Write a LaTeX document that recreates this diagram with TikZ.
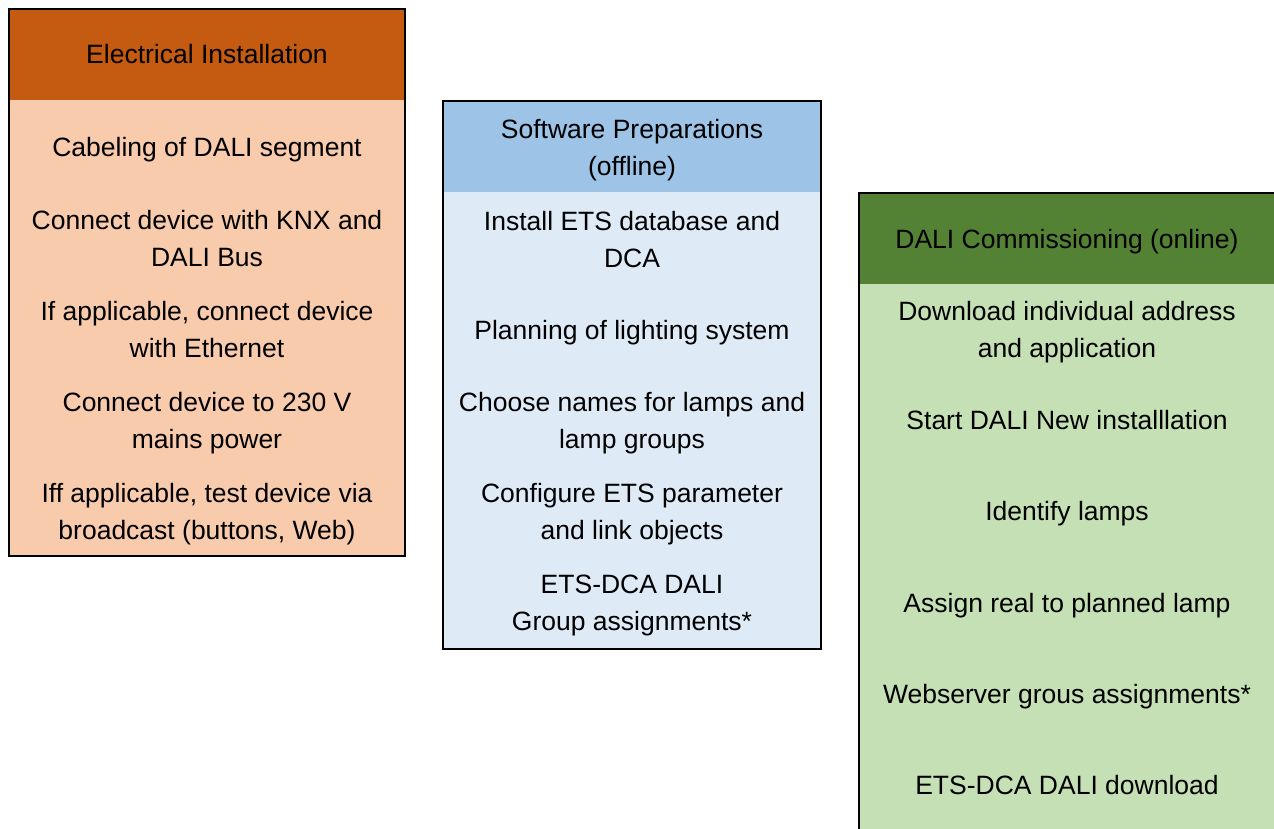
\documentclass[tikz,border=0pt]{standalone}
\usepackage{fontspec}
\setmainfont{Liberation Sans}
\newcommand\lnstrut{\rule[-8pt]{0pt}{35pt}}
\definecolor{orhead}{HTML}{C55A11}
\definecolor{orbody}{HTML}{F8CBAD}
\definecolor{bluhead}{HTML}{9DC3E6}
\definecolor{blubody}{HTML}{DEEBF7}
\definecolor{grhead}{HTML}{548235}
\definecolor{grbody}{HTML}{C5E0B4}
\tikzset{
  txt/.style={inner sep=0pt, align=center, font=\fontsize{26.5}{37}\selectfont, text=black},
  frame/.style={draw=black, line width=2pt}
}
\begin{document}
\begin{tikzpicture}[x=1pt,y=-1pt]
\clip (0,0) rectangle (1274,828);
\fill[white] (0,0) rectangle (1274,828);
% Box 1
\fill[orhead] (9,9) rectangle (405,100);
\fill[orbody] (9,100) rectangle (405,556);
\draw[frame] (9,9) rectangle (405,556);
% Box 2
\fill[bluhead] (443,101) rectangle (821,192);
\fill[blubody] (443,192) rectangle (821,649);
\draw[frame] (443,101) rectangle (821,649);
% Box 3
\fill[grhead] (859,193) rectangle (1290,284);
\fill[grbody] (859,284) rectangle (1290,850);
\draw[frame] (859,193) rectangle (1290,850);
% Box 1 texts
\node[txt] (e0) at (207,54) {\lnstrut Electrical Installation};
\node[txt] (e1) at (207,146.5) {\lnstrut Cabeling of DALI segment};
\node[txt] (e2) at (207,238.5) {\lnstrut Connect device with KNX and\\\lnstrut DALI Bus};
\node[txt] (e3) at (207,329.5) {\lnstrut If applicable, connect device\\\lnstrut with Ethernet};
\node[txt] (e4) at (207,420.5) {\lnstrut Connect device to 230 V\\\lnstrut mains power};
\node[txt] (e5) at (207,511) {\lnstrut Iff applicable, test device via\\\lnstrut broadcast (buttons, Web)};
% Box 2 texts
\node[txt] (s0) at (632,147) {\lnstrut Software Preparations\\\lnstrut (offline)};
\node[txt] (s1) at (632,239.5) {\lnstrut Install ETS database and\\\lnstrut DCA};
\node[txt] (s2) at (632,330) {\lnstrut Planning of lighting system};
\node[txt] (s3) at (632,420.5) {\lnstrut Choose names for lamps and\\\lnstrut lamp groups};
\node[txt] (s4) at (632,511) {\lnstrut Configure ETS parameter\\\lnstrut and link objects};
\node[txt] (s5) at (632,602.5) {\lnstrut ETS-DCA DALI\\\lnstrut Group assignments*};
% Box 3 texts
\node[txt] (d0) at (1067,239) {\lnstrut DALI Commissioning (online)};
\node[txt] (d1) at (1067,329) {\lnstrut Download individual address\\\lnstrut and application};
\node[txt] (d2) at (1067,420) {\lnstrut Start DALI New installlation};
\node[txt] (d3) at (1067,511) {\lnstrut Identify lamps};
\node[txt] (d4) at (1067,603) {\lnstrut Assign real to planned lamp};
\node[txt] (d5) at (1067,694) {\lnstrut Webserver grous assignments*};
\node[txt] (d6) at (1067,785) {\lnstrut ETS-DCA DALI download};
\end{tikzpicture}
\end{document}
